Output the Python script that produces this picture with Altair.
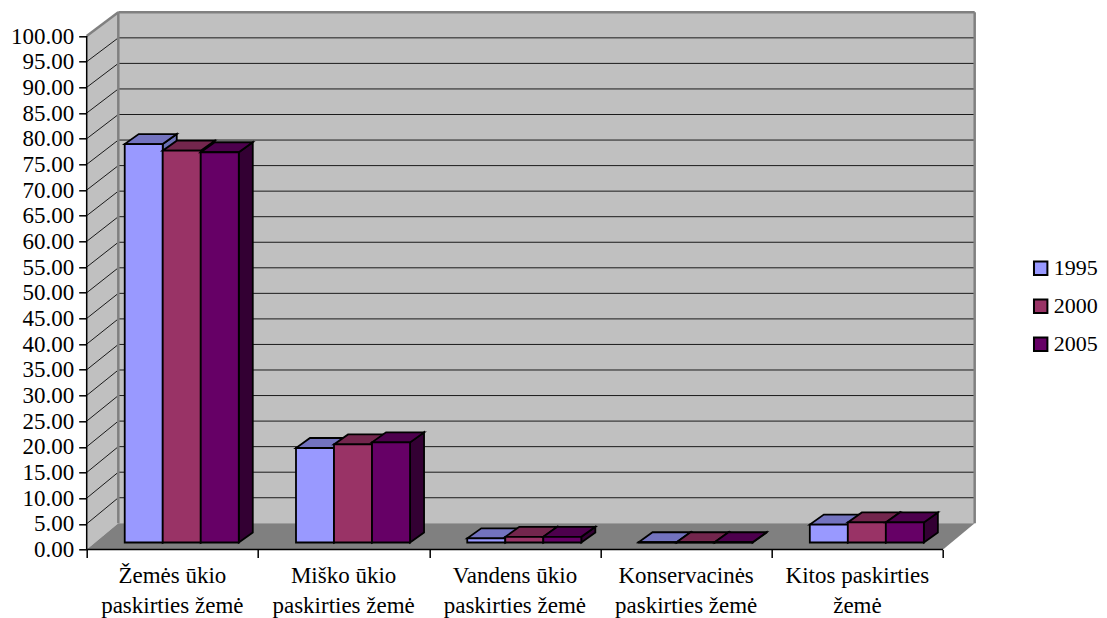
import altair as alt
import pandas as pd

categories = ["Žemės ūkio\npaskirties žemė", "Miško ūkio\npaskirties žemė",
              "Vandens ūkio\npaskirties žemė", "Konservacinės\npaskirties žemė",
              "Kitos paskirties\nžemė"]
series = ["1995", "2000", "2005"]
values_1995 = [77.6, 18.4, 0.8, 0.05, 3.5]
values_2000 = [76.3, 19.1, 1.1, 0.05, 3.9]
values_2005 = [76.0, 19.5, 1.1, 0.05, 3.9]
front_colors = ["#9999FF", "#993366", "#660066"]
top_colors = ["#7373BF", "#73264D", "#4D004D"]
side_colors = ["#6A70B5", "#4D1A33", "#330033"]
y_ticks = list(range(0, 105, 5))

# geometry of the fake-3D box, in axis units
W, H = 888, 537.2
PX_X, PX_Y = 171.2, 5.135
DEPTH_X, DEPTH_Y = 31.6 / PX_X, 26.2 / PX_Y
WALL = 511 / 513.5
BACK_TOP = DEPTH_Y + 100 * WALL
XMAX, YMAX = 5 + DEPTH_X, BACK_TOP
BAR_W = 38 / PX_X
BAR_START = 38 / PX_X
BAR_DX, BAR_DY = 14 / PX_X, 10 / PX_Y
BASE = 7 / PX_Y

xs = alt.Scale(domain=[0, XMAX], nice=False, zero=False)
ys = alt.Scale(domain=[0, YMAX], nice=False, zero=False)
AX_X = alt.Axis(values=[0, 1, 2, 3, 4, 5], labels=False, title=None, domain=False, grid=False,
                tickColor="black", tickWidth=1.5, tickSize=8)
AX_Y = alt.Axis(values=y_ticks, format=".2f", title=None, domain=False, grid=False,
                tickColor="black", tickWidth=1.5, tickSize=8, labelPadding=5,
                labelFont="Liberation Serif", labelFontSize=23, labelColor="black")
X = alt.X("x:Q", scale=xs, axis=AX_X)
Y = alt.Y("y:Q", scale=ys, axis=AX_Y, stack=None)
Y2 = alt.Y2("y2:Q")


def poly_rows(pid, color, pts):
    return [dict(pid=pid, color=color, x=a, y=b, y2=c) for a, b, c in pts]


def area_layer(rows, **kw):
    return alt.Chart(pd.DataFrame(rows)).mark_area(**kw).encode(
        x=X, y=Y, y2=Y2,
        detail=alt.Detail("pid:N"),
        fill=alt.Fill("color:N", scale=None, legend=None),
    )


def line_layer(rows, color, width):
    return alt.Chart(pd.DataFrame(rows)).mark_line(color=color, strokeWidth=width).encode(
        x=X, y=alt.Y("y:Q", scale=ys, axis=AX_Y), detail=alt.Detail("pid:N"),
    )


back_wall = area_layer(poly_rows("back", "#C0C0C0", [
    (DEPTH_X, DEPTH_Y, BACK_TOP), (XMAX, DEPTH_Y, BACK_TOP)]))
side_wall = area_layer(poly_rows("side", "#C0C0C0", [
    (0, 0, 100), (DEPTH_X, DEPTH_Y, BACK_TOP)]))
floor = area_layer(poly_rows("floor", "#808080", [
    (0, 0, 0), (DEPTH_X, 0, DEPTH_Y), (5, 0, DEPTH_Y), (XMAX, DEPTH_Y, DEPTH_Y)]))

grid_rows = []
for k in y_ticks[1:-1]:
    by = DEPTH_Y + k * WALL
    grid_rows += [dict(pid=f"b{k}", x=DEPTH_X, y=by), dict(pid=f"b{k}", x=XMAX, y=by),
                  dict(pid=f"s{k}", x=0, y=k), dict(pid=f"s{k}", x=DEPTH_X, y=by)]
grid = line_layer(grid_rows, "#1a1a1a", 1)

edge_rows = [dict(pid="top", x=DEPTH_X, y=BACK_TOP), dict(pid="top", x=XMAX, y=BACK_TOP),
             dict(pid="diag", x=0, y=100), dict(pid="diag", x=DEPTH_X, y=BACK_TOP)]
edges = line_layer(edge_rows, "#808080", 2.5)

vert = pd.DataFrame({"x": [DEPTH_X, XMAX], "y": [DEPTH_Y, DEPTH_Y], "y2": [BACK_TOP, BACK_TOP]})
vert_edges = alt.Chart(vert).mark_rule(color="#808080", strokeWidth=2.5).encode(x=X, y=Y, y2=Y2)

axis_v = alt.Chart(pd.DataFrame({"x": [0], "y": [0], "y2": [100]})).mark_rule(
    color="black", strokeWidth=1.5).encode(x=X, y=Y, y2=Y2)
axis_h = line_layer([dict(pid="h", x=0, y=0), dict(pid="h", x=5, y=0)], "black", 1.5)

bar_rows = []
all_values = [values_1995, values_2000, values_2005]
for c in range(len(categories)):
    for s in range(len(series)):
        v = all_values[s][c]
        x0 = c + BAR_START + s * BAR_W
        x1 = x0 + BAR_W
        t = BASE + v
        bar_rows += poly_rows(f"{c}-{s}-a", side_colors[s], [
            (x1, BASE, t), (x1 + BAR_DX, BASE + BAR_DY, t + BAR_DY)])
        bar_rows += poly_rows(f"{c}-{s}-b", top_colors[s], [
            (x0, t, t), (x0 + BAR_DX, t, t + BAR_DY),
            (x1, t, t + BAR_DY), (x1 + BAR_DX, t + BAR_DY, t + BAR_DY)])
        bar_rows += poly_rows(f"{c}-{s}-c", front_colors[s], [
            (x0, BASE, t), (x1, BASE, t)])
bars = area_layer(bar_rows, stroke="black", strokeWidth=1.8, strokeJoin="miter")

labels = alt.Chart(pd.DataFrame({
    "x": [i + 0.5 for i in range(5)], "t": categories,
})).mark_text(font="Liberation Serif", fontSize=23, lineBreak="\n", lineHeight=29.5,
              baseline="middle", color="black").encode(
    x=X,
    y=alt.value(H + 27),
    text="t:N",
)

legend = alt.Chart(pd.DataFrame({"s": series, "x": [0, 0, 0], "y": [0, 0, 0]})).mark_square(
    opacity=0).encode(
    x=X,
    y=alt.Y("y:Q", scale=ys, axis=AX_Y),
    color=alt.Color("s:N", scale=alt.Scale(domain=series, range=front_colors), legend=alt.Legend(
        title=None, orient="none", legendX=943, legendY=245, padding=0,
        symbolType="square", symbolSize=180, symbolOpacity=1, symbolStrokeColor="black",
        symbolStrokeWidth=2, labelFont="Liberation Serif", labelFontSize=22, labelColor="black",
        labelOffset=2, rowPadding=16)),
)

chart = alt.layer(
    back_wall, side_wall, grid, floor, edges, vert_edges, axis_v, axis_h, bars, labels, legend
).properties(
    width=W, height=H,
    autosize=alt.AutoSizeParams(type="none"),
    padding={"left": 78.7, "top": 4.3, "right": 124, "bottom": 68.5},
    background="white",
).configure_view(stroke=None)

chart.save("out.html", embed_options={"renderer": "svg", "actions": False})
